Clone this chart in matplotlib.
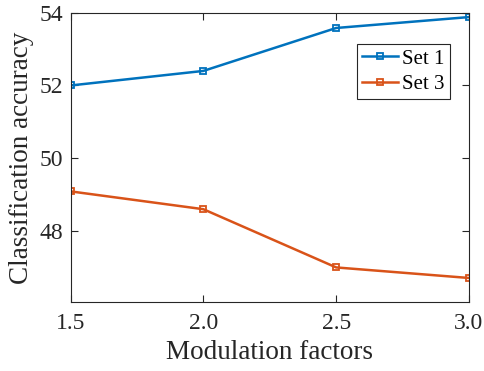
import matplotlib
matplotlib.use("Agg")
import matplotlib.pyplot as plt

x_vals = [1.5, 2.0, 2.5, 3.0]
set1 = [52.0, 52.4, 53.58, 53.88]
set3 = [49.09, 48.6, 47.0, 46.71]
x_ticks = [1.5, 2.0, 2.5, 3.0]
x_ticklabels = ["1.5", "2.0", "2.5", "3.0"]
y_ticks = [48, 50, 52, 54]
labels = ["Set 1", "Set 3"]

plt.rcParams['font.family'] = ['Liberation Serif', 'DejaVu Serif']
fig = plt.figure(figsize=(4.85, 3.71), dpi=100)
ax = fig.add_axes([70.5/485, 1 - 302/371, (469 - 70.5)/485, (302 - 12.7)/371])

ax.plot(x_vals, set1, color='#0072BD', lw=1.8, marker='s', ms=4.5, mfc='none',
        mew=1.3, label=labels[0])
ax.plot(x_vals, set3, color='#D95319', lw=1.8, marker='s', ms=4.5, mfc='none',
        mew=1.3, label=labels[1])

ax.set_xlim(1.5, 3.0)
ax.set_ylim(46.05, 54)
ax.set_xticks(x_ticks)
ax.set_xticklabels(x_ticklabels)
ax.set_yticks(y_ticks)
ax.tick_params(direction='in', top=True, right=True, length=5, width=0.8,
               labelsize=17, colors='#262626')
ax.tick_params(axis='x', pad=8)
ax.tick_params(axis='y', pad=5)
for s in ax.spines.values():
    s.set_color('#262626')
    s.set_linewidth(0.8)
ax.set_xlabel("Modulation factors", fontsize=19.5, color='#262626', labelpad=4)
ax.set_ylabel("Classification accuracy", fontsize=19.5, color='#262626', labelpad=4)
leg = ax.legend(loc='upper right', bbox_to_anchor=(0.952, 0.892), fontsize=15,
                fancybox=False, framealpha=1, edgecolor='#262626', borderaxespad=0,
                handlelength=1.73, handletextpad=0.2, borderpad=0.25, labelspacing=0.28)
leg.get_frame().set_linewidth(0.8)
fig.savefig("out.png", dpi=100)
